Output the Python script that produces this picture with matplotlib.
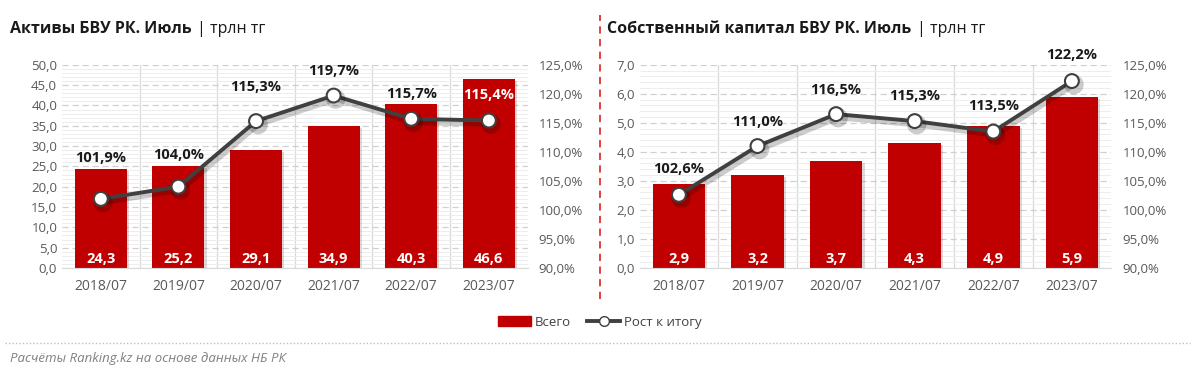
import matplotlib.pyplot as plt
import matplotlib.patheffects as pe
from matplotlib.lines import Line2D
from matplotlib.patches import Patch
from matplotlib.ticker import MultipleLocator, FuncFormatter
from matplotlib.transforms import offset_copy
import numpy as np

plt.rcParams['font.family'] = ['Open Sans', 'DejaVu Sans']

periods = ['2018/07', '2019/07', '2020/07', '2021/07', '2022/07', '2023/07']

assets = [24.3, 25.2, 29.1, 34.9, 40.3, 46.6]
assets_growth = [101.9, 104.0, 115.3, 119.7, 115.7, 115.4]

equity = [2.9, 3.2, 3.7, 4.3, 4.9, 5.9]
equity_growth = [102.6, 111.0, 116.5, 115.3, 113.5, 122.2]

# label lift above the marker, in pixels
assets_lift = [41, 32, 34, 25, 25, 26]
equity_lift = [26, 24, 24, 25, 26, 26]

RED = '#C00000'
LINE = '#404040'
TICK = '#595959'


def comma(fmt):
    return FuncFormatter(lambda v, p: fmt.format(v).replace('.', ','))


def panel(ax, values, growth, lift, ymax, ystep, white_idx=()):
    x = np.arange(len(periods))
    ax.set_xlim(-0.5, len(periods) - 0.5)
    ax.set_ylim(0, ymax)
    ax.yaxis.set_major_locator(MultipleLocator(ystep))
    ax.yaxis.set_minor_locator(MultipleLocator(ystep / 5))
    ax.yaxis.set_major_formatter(comma('{:.1f}'))
    ax.grid(axis='y', which='major', color='#d0d0d0', linestyle=(0, (5, 3)), linewidth=0.9)
    ax.grid(axis='y', which='minor', color='#ededed', linewidth=0.7)
    for b in np.arange(0.5, len(periods) - 0.5):
        ax.axvline(b, color='#d9d9d9', linewidth=0.9, zorder=0)
    ax.set_axisbelow(True)

    ax.bar(x, values, width=0.67, color=RED, zorder=2,
           path_effects=[pe.SimplePatchShadow(offset=(1.5, -1.5), alpha=0.15), pe.Normal()])
    for xi, v in zip(x, values):
        ax.text(xi, ymax * 0.045, f'{v:.1f}'.replace('.', ','), ha='center', va='center',
                color='white', fontsize=10.5, fontweight='bold', zorder=5)

    ax.set_xticks(x)
    ax.set_xticklabels(periods)
    ax.tick_params(axis='x', length=0, colors=TICK, labelsize=10, pad=8)
    ax.tick_params(axis='y', which='both', length=0, colors=TICK, labelsize=9.5)
    for s in ax.spines.values():
        s.set_visible(False)
    ax.spines['bottom'].set_visible(True)
    ax.spines['bottom'].set_color('#d9d9d9')

    ax2 = ax.twinx()
    ax2.set_ylim(90, 125)
    ax2.yaxis.set_major_locator(MultipleLocator(5))
    ax2.yaxis.set_major_formatter(comma('{:.1f}%'))
    ax2.tick_params(axis='y', length=0, colors=TICK, labelsize=9.5, pad=8)
    for s in ax2.spines.values():
        s.set_visible(False)
    ax2.plot(x, growth, color=LINE, linewidth=2.8, marker='o', markersize=10,
             markerfacecolor='white', markeredgecolor=LINE, markeredgewidth=1.5, zorder=4,
             path_effects=[pe.SimpleLineShadow(offset=(1.5, -2.5), alpha=0.2, linewidth=4), pe.Normal()])
    for i, (xi, g) in enumerate(zip(x, growth)):
        ax2.annotate(f'{g:.1f}%'.replace('.', ','), (xi, g), xytext=(0, lift[i] * 0.72),
                     textcoords='offset points', ha='center', va='center',
                     fontsize=10.5, fontweight='bold',
                     color='white' if i in white_idx else '#1a1a1a', zorder=6)
    return ax2


fig = plt.figure(figsize=(12, 3.79), dpi=100)
ax_l = fig.add_axes([0.0517, 0.293, 0.388, 0.536])
ax_r = fig.add_axes([0.533, 0.293, 0.393, 0.536])

panel(ax_l, assets, assets_growth, assets_lift, 50, 5, white_idx=(5,))
panel(ax_r, equity, equity_growth, equity_lift, 7, 1)

renderer = fig.canvas.get_renderer()
for x0, title in [(0.008, 'Активы БВУ РК. Июль'), (0.506, 'Собственный капитал БВУ РК. Июль')]:
    t = fig.text(x0, 0.912, title, fontsize=11.5, fontweight='bold', color='#1a1a1a')
    w = t.get_window_extent(renderer).width
    fig.text(x0, 0.912, '| трлн тг', fontsize=11.5, color='#1a1a1a',
             transform=offset_copy(fig.transFigure, fig=fig, x=(w + 6) * 72 / fig.dpi, units='points'))

fig.add_artist(Line2D([0.5, 0.5], [0.21, 0.96], color='#e03030', linestyle=(0, (4, 3)), linewidth=1.3))
fig.add_artist(Line2D([0.004, 0.992], [0.095, 0.095], color='#bfbfbf', linestyle=(0, (1, 1.5)), linewidth=1))

handles = [Patch(color=RED, label='Всего'),
           Line2D([0], [0], color=LINE, linewidth=2.8, marker='o', markersize=7,
                  markerfacecolor='white', markeredgecolor=LINE, label='Рост к итогу')]
fig.legend(handles=handles, loc='center', bbox_to_anchor=(0.5, 0.15), ncol=2, frameon=False,
           fontsize=9.5, labelcolor='#404040', handlelength=2.5, columnspacing=1.2, handletextpad=0.3)

fig.text(0.008, 0.045, 'Расчёты Ranking.kz на основе данных НБ РК', fontsize=9.5,
         style='italic', color='#808080')

fig.savefig('out.png', dpi=100, facecolor='white')
